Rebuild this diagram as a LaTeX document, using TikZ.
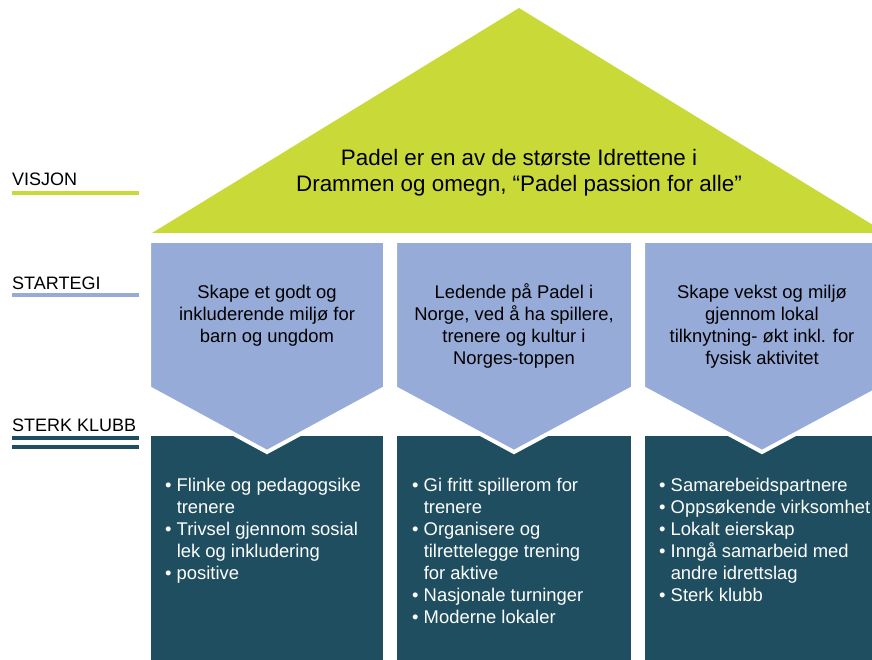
\documentclass[tikz,border=0pt]{standalone}
\usepackage{fontspec}
\setmainfont{Liberation Sans}
\definecolor{roofc}{RGB}{201,218,56}
\definecolor{stratc}{RGB}{151,171,216}
\definecolor{klubbc}{RGB}{31,78,96}
\tikzset{
  chevron/.style={fill=stratc, draw=white, line width=4pt, line join=miter},
  darkbox/.style={fill=klubbc},
  sidelabel/.style={anchor=base west, inner sep=0pt, font=\fontsize{18}{18}\selectfont},
  chevtext/.style={anchor=north, inner sep=0pt, align=center, font=\fontsize{18.4}{22}\selectfont},
  boxtext/.style={anchor=north west, inner sep=0pt, align=left, text=white, font=\fontsize{18.4}{22}\selectfont},
}
\newcommand{\bul}{\textbullet\ }
\newcommand{\ind}{\hphantom{\textbullet\ }}
\begin{document}
\begin{tikzpicture}[x=1pt,y=-1pt]
\useasboundingbox (0,0) rectangle (872,660);
\clip (0,0) rectangle (872,660);
% roof
\fill[roofc] (152,233) -- (519,8) -- (886,233) -- cycle;
\node[align=center, inner sep=0pt, font=\fontsize{22.4}{26}\selectfont] (vision) at (519,173)
  {Padel er en av de største Idrettene i\\Drammen og omegn, “Padel passion for alle”};
% dark boxes
\fill[darkbox] (151,436) rectangle (383,660);
\fill[darkbox] (397,436) rectangle (631,660);
\fill[darkbox] (645,436) rectangle (879,660);
% chevrons
\filldraw[chevron] (149,241) -- (385,241) -- (385,388) -- (267,452) -- (149,388) -- cycle;
\filldraw[chevron] (395,241) -- (633,241) -- (633,388) -- (514,452) -- (395,388) -- cycle;
\filldraw[chevron] (643,241) -- (881,241) -- (881,388) -- (762,452) -- (643,388) -- cycle;
% chevron texts
\node[chevtext] (s1) at (267,282.6) {\strut Skape et godt og\\inkluderende miljø for\\barn og ungdom};
\node[chevtext] (s2) at (514,282.6) {\strut Ledende på Padel i\\Norge, ved å ha spillere,\\trenere og kultur i\\Norges-toppen};
\node[chevtext] (s3) at (762,282.6) {\strut Skape vekst og miljø\\gjennom lokal\\tilknytning- økt inkl. for\\fysisk aktivitet};
% box texts
\node[boxtext] (k1) at (165,475.6) {\strut\bul Flinke og pedagogsike\\\ind trenere\\\bul Trivsel gjennom sosial\\\ind lek og inkludering\\\bul positive};
\node[boxtext] (k2) at (412,475.6) {\strut\bul Gi fritt spillerom for\\\ind trenere\\\bul Organisere og\\\ind tilrettelegge trening\\\ind for aktive\\\bul Nasjonale turninger\\\bul Moderne lokaler};
\node[boxtext] (k3) at (659,475.6) {\strut\bul Samarebeidspartnere\\\bul Oppsøkende virksomhet\\\bul Lokalt eierskap\\\bul Inngå samarbeid med\\\ind andre idrettslag\\\bul Sterk klubb};
% side labels
\node[sidelabel] (lv) at (12,186) {VISJON};
\draw[roofc, line width=4pt] (12,193) -- (139,193);
\node[sidelabel] (ls) at (12,289) {STARTEGI};
\draw[stratc, line width=4pt] (12,295) -- (139,295);
\node[sidelabel] (lk) at (12,431) {STERK KLUBB};
\draw[klubbc, line width=4pt] (12,438) -- (139,438);
\draw[klubbc, line width=4pt] (12,447) -- (139,447);
\end{tikzpicture}
\end{document}
